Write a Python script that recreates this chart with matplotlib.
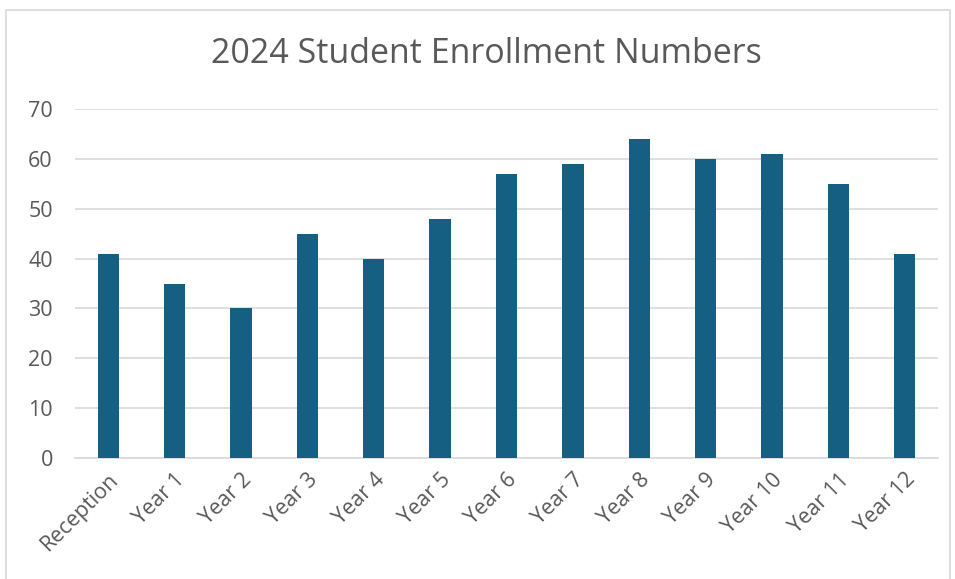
import matplotlib
matplotlib.use("Agg")
import matplotlib.pyplot as plt
from matplotlib.patches import Rectangle

categories = ["Reception", "Year 1", "Year 2", "Year 3", "Year 4", "Year 5", "Year 6",
              "Year 7", "Year 8", "Year 9", "Year 10", "Year 11", "Year 12"]
values = [41, 35, 30, 45, 40, 48, 57, 59, 64, 60, 61, 55, 41]
yticks = [0, 10, 20, 30, 40, 50, 60, 70]
title = "2024 Student Enrollment Numbers"

plt.rcParams['font.family'] = ['Open Sans', 'DejaVu Sans']
W, H = 955, 579
fig = plt.figure(figsize=(W/100, H/100), dpi=100)
fig.patches.append(Rectangle((6/W, -0.01), (944)/W, 1 - 10/H + 0.01, transform=fig.transFigure,
                             fill=False, edgecolor='#d9d9d9', linewidth=1.2))
ax = fig.add_axes([75/W, (H-458)/H, (938-75)/W, (458-109)/H])
x = range(len(categories))
ax.bar(x, values, width=0.32, color='#156082', zorder=3)
ax.set_xlim(-0.5, len(categories)-0.5)
ax.set_ylim(0, 70)
ax.set_yticks(yticks)
ax.set_xticks(list(x))
ax.set_xticklabels(categories, rotation=45, ha='right', rotation_mode='anchor')
ax.tick_params(axis='both', length=0, labelsize=15.5, colors='#595959')
ax.tick_params(axis='y', pad=16)
ax.tick_params(axis='x', pad=8)
ax.grid(axis='y', color='#d9d9d9', linewidth=1.2, zorder=0)
for s in ['top', 'right', 'left']:
    ax.spines[s].set_visible(False)
ax.spines['bottom'].set_color('#d9d9d9')
ax.spines['bottom'].set_linewidth(1.2)
fig.text((208+765)/2/W, 1 - 54/H, title, ha='center', va='center', fontsize=24.5, color='#595959')
fig.savefig("out.png", dpi=100)
